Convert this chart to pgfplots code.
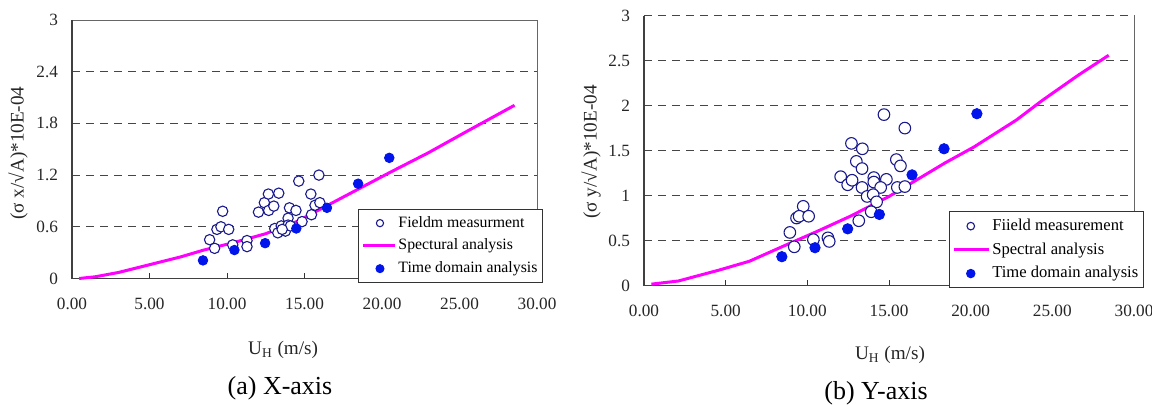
\documentclass[border=0pt]{standalone}
\usepackage{fontspec}
\setmainfont{Liberation Serif}
\usepackage{pgfplots}
\pgfplotsset{compat=1.18}
\definecolor{fieldblue}{RGB}{25,25,140}
\definecolor{tdblue}{RGB}{0,20,235}
\definecolor{spec}{RGB}{255,0,255}
\definecolor{gridc}{RGB}{70,70,70}

\pgfplotstableread{
x y
8.88 0.45
9.20 0.35
9.35 0.57
9.61 0.60
9.72 0.78
10.11 0.57
10.37 0.39
11.29 0.44
11.29 0.37
12.03 0.77
12.41 0.88
12.67 0.98
12.69 0.79
13.02 0.84
13.34 0.99
13.08 0.58
13.28 0.53
13.50 0.61
13.77 0.55
14.03 0.82
13.94 0.70
13.94 0.62
14.45 0.79
14.63 1.13
14.84 0.66
15.41 0.98
15.45 0.74
15.68 0.85
15.93 1.20
15.99 0.88
14.09 0.61
13.56 0.57
}\fieldX

\pgfplotstableread{
x y
0.46 0.00
1.5 0.02
3.0 0.07
5.0 0.16
7.0 0.25
8.5 0.33
10.5 0.42
12.5 0.52
14.5 0.66
16.5 0.85
18.5 1.04
20.5 1.23
23.0 1.46
25.5 1.71
28.55 2.01
}\specX

\pgfplotstableread{
x y
8.45 0.21
10.48 0.33
12.46 0.41
14.47 0.58
16.45 0.82
18.46 1.10
20.47 1.40
}\tdX

\pgfplotstableread{
x y
14.69 1.90
15.97 1.75
12.70 1.58
13.37 1.52
15.45 1.40
15.70 1.33
13.00 1.38
13.35 1.30
12.04 1.21
12.47 1.12
12.74 1.17
14.07 1.20
14.07 1.15
14.84 1.18
13.35 1.09
14.49 1.09
15.51 1.09
15.97 1.10
13.66 0.99
14.03 1.01
14.24 0.93
13.91 0.82
13.15 0.72
9.75 0.88
9.34 0.75
9.50 0.77
10.08 0.77
8.93 0.59
9.20 0.43
10.37 0.51
11.26 0.53
11.34 0.49
}\fieldY

\pgfplotstableread{
x y
0.45 0.015
2.1 0.05
4.57 0.17
6.46 0.27
8.44 0.43
10.58 0.60
12.63 0.77
15.0 0.99
16.75 1.18
18.4 1.36
20.2 1.54
22.8 1.84
24.4 2.06
26.6 2.34
28.45 2.56
}\specY

\pgfplotstableread{
x y
8.44 0.32
10.47 0.42
12.47 0.63
14.41 0.79
16.41 1.23
18.37 1.52
20.38 1.91
}\tdY

\pgfplotsset{
  chartstyle/.style={
    scale only axis,
    xmin=0, xmax=30, ymin=0, ymax=3,
    xtick={0,5,10,15,20,25,30},
    xtick pos=bottom, tick align=inside,
    major tick length=2.5pt,
    ytick style={draw=none},
    xtick style={draw=black!80, line width=0.5pt},
    x tick label style={/pgf/number format/fixed, /pgf/number format/fixed zerofill, /pgf/number format/precision=2, /pgf/number format/assume math mode=true, yshift=-6.5pt},
    y tick label style={/pgf/number format/fixed, /pgf/number format/precision=1, /pgf/number format/assume math mode=true, xshift=-3.5pt},
    tick label style={font=\fontsize{8.6}{9}\selectfont, black!85},
    ymajorgrids,
    major grid style={gridc, line width=0.45pt, dash pattern=on 4pt off 3pt},
    axis line style={black!60, line width=0.45pt},
    label style={font=\fontsize{9.6}{11}\selectfont, black!85},
    legend cell align=left,
    clip=false,
  },
  fieldst/.style={only marks, mark=*, mark options={draw=fieldblue, fill=white, line width=0.55pt}},
  tdst/.style={only marks, mark=*, mark options={draw=tdblue, fill=tdblue}},
  specst/.style={spec, line width=1.5pt, no marks},
  markleg/.style={legend image code/.code={\draw[##1, mark size=#1] plot coordinates {(8.5pt,0pt)};}},
  lineleg/.style={legend image code/.code={\draw[##1] (0pt,0pt) -- (#1,0pt);}},
}

\begin{document}
\begin{tikzpicture}
\path[use as bounding box] (0pt,0pt) rectangle (576pt,202.5pt);

% ---------- (a) X-axis ----------
\begin{axis}[chartstyle,
  at={(36pt,63.25pt)}, anchor=south west,
  width=232.5pt, height=129.25pt,
  ytick={0,0.6,1.2,1.8,2.4,3},
  xlabel={U\textsubscript{H} (m/s)},
  ylabel={(σ x/√A)*10E-04},
  xlabel style={at={(axis description cs:0.454,-0.277)}, anchor=center},
  ylabel style={at={(axis description cs:-0.116,0.485)}, anchor=center},
  legend style={at={(axis description cs:0.615,-0.018)}, anchor=south west,
    draw=black!80, line width=0.5pt, fill=white,
    font=\fontsize{7.9}{8}\selectfont, inner xsep=1.5pt, inner ysep=2.5pt,
    row sep=2.4pt, nodes={inner sep=1pt}},
]
\draw[black!75, line width=0.85pt] (rel axis cs:0,1) -- (rel axis cs:0,0) -- (rel axis cs:1,0);
\addplot[fieldst, mark size=2.6pt, markleg=1.8pt] table[x=x,y=y] {\fieldX};
\addlegendentry{Fieldm measurment}
\addplot[specst, lineleg=16pt] table[x=x,y=y] {\specX};
\addlegendentry{Spectural analysis}
\addplot[tdst, mark size=2.4pt, markleg=2pt] table[x=x,y=y] {\tdX};
\addlegendentry{Time domain analysis}
\end{axis}

% ---------- (b) Y-axis ----------
\begin{axis}[chartstyle,
  at={(322pt,59.75pt)}, anchor=south west,
  width=245pt, height=134.9pt,
  ytick={0,0.5,1,1.5,2,2.5,3},
  xlabel={U\textsubscript{H} (m/s)},
  ylabel={(σ y/√A)*10E-04},
  xlabel style={at={(axis description cs:0.502,-0.258)}, anchor=center},
  ylabel style={at={(axis description cs:-0.108,0.495)}, anchor=center},
  legend style={at={(axis description cs:0.622,-0.0105)}, anchor=south west,
    draw=black!80, line width=0.5pt, fill=white,
    font=\fontsize{8.3}{8.5}\selectfont, inner xsep=1.5pt, inner ysep=2.5pt,
    row sep=2.6pt, nodes={inner sep=1pt}},
]
\draw[black!75, line width=0.85pt] (rel axis cs:0,1) -- (rel axis cs:0,0) -- (rel axis cs:1,0);
\draw[white, line width=0.6pt] (rel axis cs:0.003,1) -- (rel axis cs:1,1);
\draw[gridc, line width=0.45pt, dash pattern=on 4pt off 3pt] (rel axis cs:0,1) -- (rel axis cs:1,1);
\addplot[fieldst, mark size=2.9pt, markleg=1.9pt] table[x=x,y=y] {\fieldY};
\addlegendentry{Fiield measurement}
\addplot[specst, lineleg=17.5pt] table[x=x,y=y] {\specY};
\addlegendentry{Spectral analysis}
\addplot[tdst, mark size=2.6pt, markleg=2.1pt] table[x=x,y=y] {\tdY};
\addlegendentry{Time domain analysis}
\end{axis}

\node[font=\fontsize{13}{15}\selectfont] at (140pt,8.5pt) {(a) X-axis};
\node[font=\fontsize{13}{15}\selectfont] at (438pt,6pt) {(b) Y-axis};
\end{tikzpicture}
\end{document}
